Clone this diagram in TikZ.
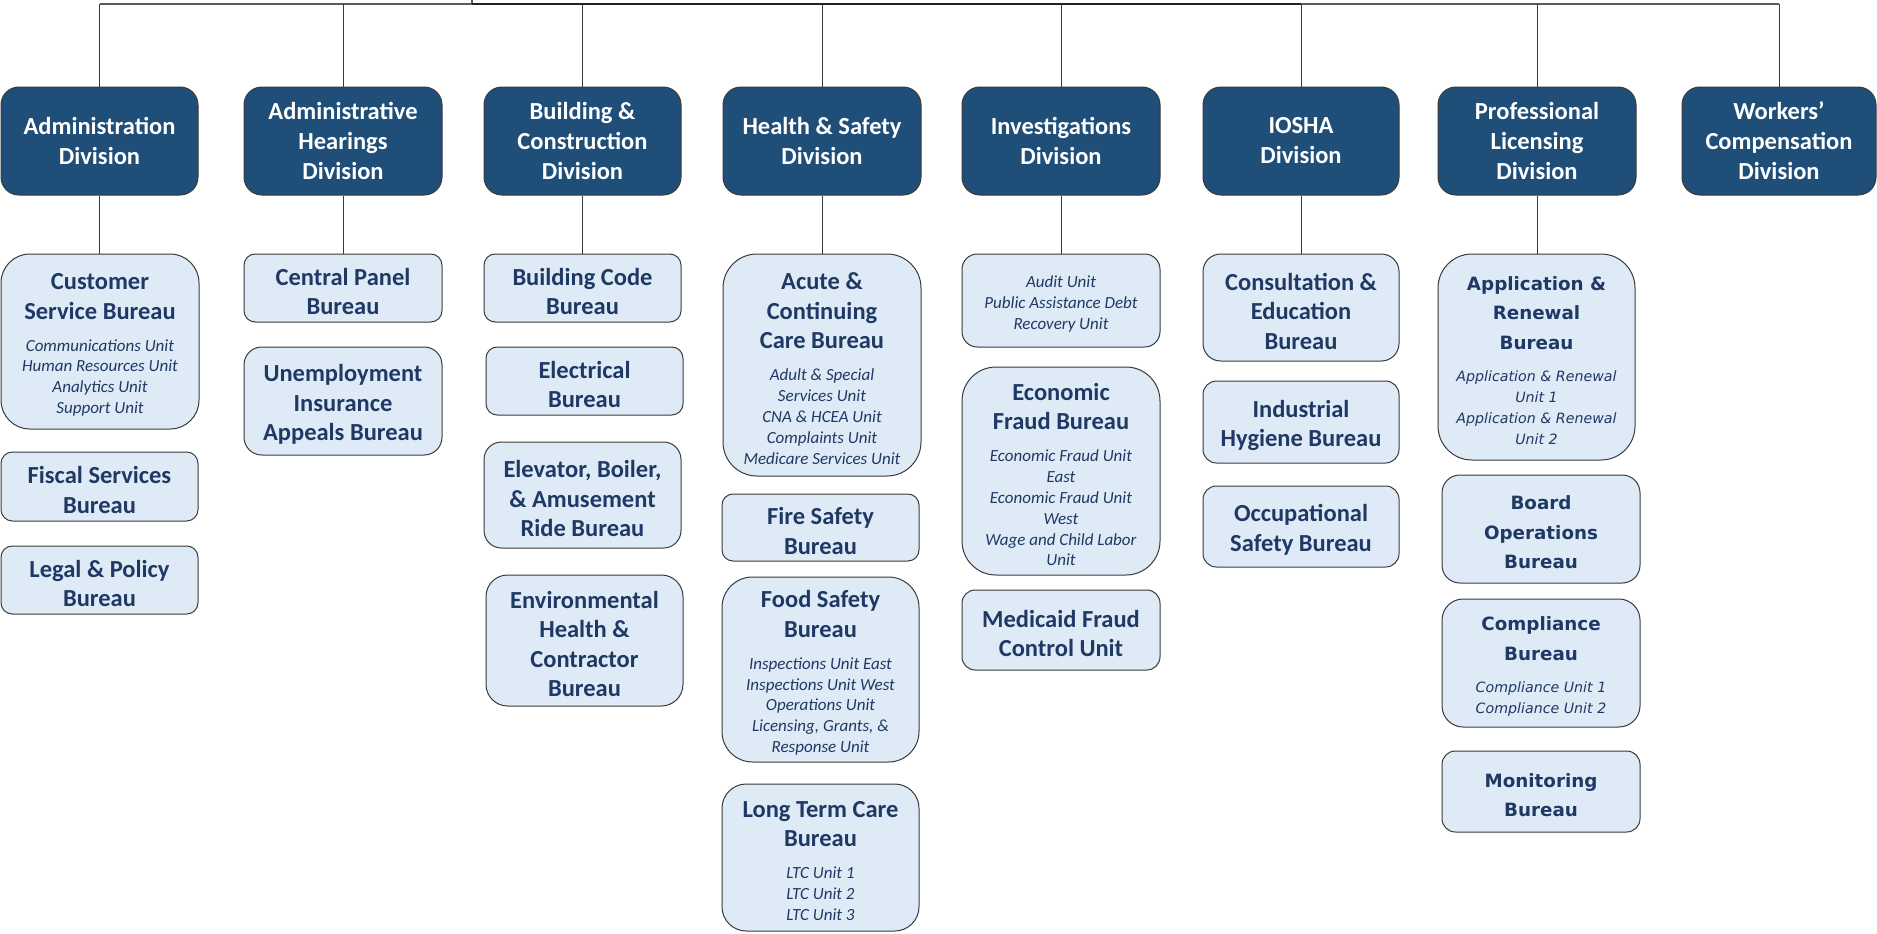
\documentclass[tikz,border=0pt]{standalone}
\usepackage{fontspec}
\setmainfont{Carlito}
\newfontfamily\plfont{DejaVu Sans}
\definecolor{divblue}{HTML}{1F4E79}
\definecolor{burblue}{HTML}{DEEBF7}
\definecolor{navy}{HTML}{1F3864}
\definecolor{edge}{HTML}{3A3A3A}
\definecolor{busgray}{HTML}{5A5A5A}
\definecolor{busdark}{HTML}{222222}
\newcommand\divf{\fontsize{24.5}{30}\selectfont\bfseries}
\newcommand\btf{\fontsize{24.5}{29.5}\selectfont\bfseries}
\newcommand\buf{\fontsize{17}{20.9}\selectfont\mdseries\itshape}
\newcommand\plt{\plfont\fontsize{18.3}{29.5}\selectfont\bfseries}
\newcommand\plu{\plfont\fontsize{14.2}{21}\selectfont\mdseries\itshape}
\newcommand\ugap{\par\vskip 11pt}
\newcommand\inbox[1]{\vbox{\hsize=196pt\parindent=0pt\parskip=0pt\leftskip=0pt plus 1fil\rightskip=0pt plus 1fil\parfillskip=0pt\let\\\par\vskip7pt #1\par}}
\newcommand\mybox[7]{%
  \pgfmathsetmacro\myW{#5-#3}%
  \pgfmathsetmacro\myH{#6-#4}%
  \pgfmathsetmacro\myR{min(0.165*\myH,34)}%
  \node[#2,minimum width=\myW pt,minimum height=\myH pt,rounded corners=\myR pt] (#1) at ({(#3+#5)/2},{(#4+#6)/2}) {#7};}
\tikzset{
  division/.style={draw=edge,fill=divblue,text=white,line width=1pt,align=center,inner sep=0pt,font=\divf},
  bureau/.style={draw=edge,fill=burblue,text=navy,line width=1pt,inner sep=0pt},
  link/.style={draw=edge,line width=0.9pt},
  busline/.style={draw=busgray,line width=1.6pt},
  busmain/.style={draw=busdark,line width=2pt}
}
\begin{document}
\begin{tikzpicture}[x=1pt,y=-1pt]
\useasboundingbox (0,0) rectangle (1877,934);
% divisions
\mybox{adm}{division}{1}{87}{198}{195}{Administration\\Division}
\mybox{ahd}{division}{244}{87}{442}{195}{Administrative\\Hearings\\Division}
\mybox{bcd}{division}{484}{87}{681}{195}{Building \&\\Construction\\Division}
\mybox{hsd}{division}{723}{87}{921}{195}{Health \& Safety\\Division}
\mybox{invd}{division}{962}{87}{1160}{195}{Investigations\\Division}
\mybox{iosd}{division}{1203}{87}{1399}{195}{IOSHA\\Division}
\mybox{pld}{division}{1438}{87}{1636}{195}{Professional\\Licensing\\Division}
\mybox{wcd}{division}{1682}{87}{1876}{195}{Workers’\\Compensation\\Division}
% bus
\coordinate (root) at (472,0);
\coordinate (bus) at (472,4);
\coordinate (busr) at (1301,4);
\draw[busline] (root) -- (bus);
\draw[busline] (adm.north |- bus) -- (bus);
\draw[busmain] (bus) -- (busr);
\draw[busline] (busr) -- (wcd.north |- bus);
\foreach \d in {adm,ahd,bcd,hsd,invd,iosd,pld,wcd}{\draw[link] (\d.north) -- (\d.north |- bus);}
% Administration
\mybox{cs}{bureau}{1}{254}{199}{429}{\inbox{\btf Customer\\Service Bureau\ugap\buf Communications Unit\\Human Resources Unit\\Analytics Unit\\Support Unit}}
\mybox{fis}{bureau}{1}{452}{198}{521}{\inbox{\btf Fiscal Services\\Bureau}}
\mybox{leg}{bureau}{1}{546}{198}{614}{\inbox{\btf Legal \& Policy\\Bureau}}
% Administrative Hearings
\mybox{cpb}{bureau}{244}{254}{442}{322}{\inbox{\btf Central Panel\\Bureau}}
\mybox{uia}{bureau}{244}{347}{442}{455}{\inbox{\btf Unemployment\\Insurance\\Appeals Bureau}}
% Building & Construction
\mybox{bcb}{bureau}{484}{254}{681}{322}{\inbox{\btf Building Code\\Bureau}}
\mybox{elb}{bureau}{486}{347}{683}{415}{\inbox{\btf Electrical\\Bureau}}
\mybox{ebr}{bureau}{484}{442}{681}{548}{\inbox{\btf Elevator, Boiler,\\\& Amusement\\Ride Bureau}}
\mybox{ehc}{bureau}{486}{575}{683}{706}{\inbox{\btf Environmental\\Health \&\\Contractor\\Bureau}}
% Health & Safety
\mybox{acc}{bureau}{723}{254}{921}{476}{\inbox{\btf Acute \&\\Continuing\\Care Bureau\ugap\buf Adult \& Special\\Services Unit\\CNA \& HCEA Unit\\Complaints Unit\\Medicare Services Unit}}
\mybox{fsb}{bureau}{722}{494}{919}{561}{\inbox{\btf Fire Safety\\Bureau}}
\mybox{fdb}{bureau}{722}{577}{919}{762}{\inbox{\btf Food Safety\\Bureau\ugap\buf Inspections Unit East\\Inspections Unit West\\Operations Unit\\Licensing, Grants, \&\\Response Unit}}
\mybox{ltc}{bureau}{722}{784}{919}{931}{\inbox{\btf Long Term Care\\Bureau\ugap\buf LTC Unit 1\\LTC Unit 2\\LTC Unit 3}}
% Investigations
\mybox{aud}{bureau}{962}{254}{1160}{347}{\inbox{\buf Audit Unit\\Public Assistance Debt\\Recovery Unit}}
\mybox{efb}{bureau}{962}{367}{1160}{575}{\inbox{\btf Economic\\Fraud Bureau\ugap\buf Economic Fraud Unit\\East\\Economic Fraud Unit\\West\\Wage and Child Labor\\Unit}}
\mybox{mfc}{bureau}{962}{590}{1160}{670}{\inbox{\btf Medicaid Fraud\\Control Unit}}
% IOSHA
\mybox{ceb}{bureau}{1203}{254}{1399}{361}{\inbox{\btf Consultation \&\\Education\\Bureau}}
\mybox{ihb}{bureau}{1203}{381}{1399}{463}{\inbox{\btf Industrial\\Hygiene Bureau}}
\mybox{osb}{bureau}{1203}{486}{1399}{567}{\inbox{\btf Occupational\\Safety Bureau}}
% Professional Licensing
\mybox{arb}{bureau}{1438}{254}{1635}{460}{\inbox{\plt Application \&\\Renewal\\Bureau\ugap\plu Application \& Renewal\\Unit 1\\Application \& Renewal\\Unit 2}}
\mybox{bob}{bureau}{1442}{475}{1640}{583}{\inbox{\plt Board\\Operations\\Bureau}}
\mybox{cmb}{bureau}{1442}{599}{1640}{727}{\inbox{\plt Compliance\\Bureau\ugap\plu Compliance Unit 1\\Compliance Unit 2}}
\mybox{mnb}{bureau}{1442}{751}{1640}{832}{\inbox{\plt Monitoring\\Bureau}}
% connectors division -> first bureau
\draw[link] (adm.south) -- (adm.south |- cs.north);
\draw[link] (ahd.south) -- (ahd.south |- cpb.north);
\draw[link] (bcd.south) -- (bcd.south |- bcb.north);
\draw[link] (hsd.south) -- (hsd.south |- acc.north);
\draw[link] (invd.south) -- (invd.south |- aud.north);
\draw[link] (iosd.south) -- (iosd.south |- ceb.north);
\draw[link] (pld.south) -- (pld.south |- arb.north);
\end{tikzpicture}
\end{document}
